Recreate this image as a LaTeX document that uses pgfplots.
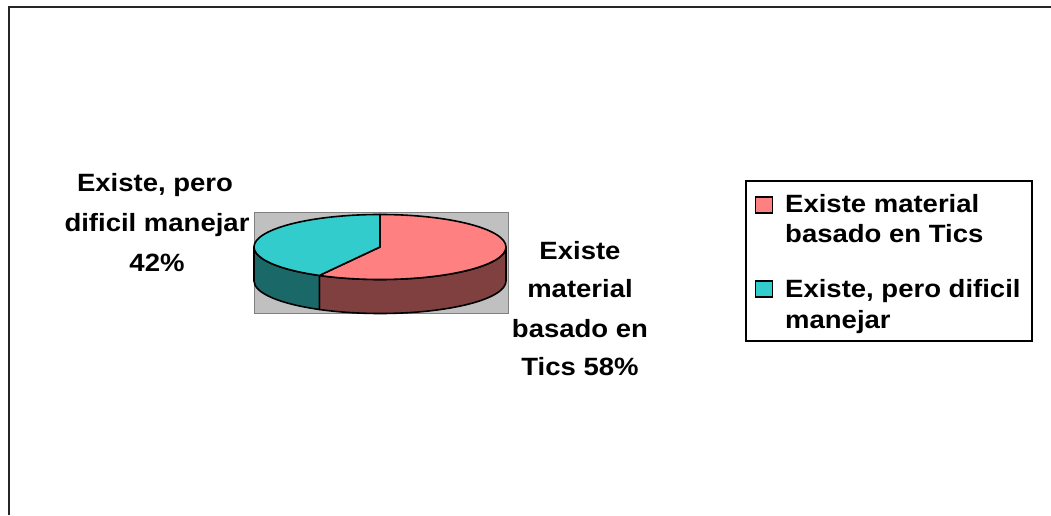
\documentclass[border=0pt]{standalone}
\usepackage{pgfplots}
\pgfplotsset{compat=1.18}
\usepackage{pgfplotstable}
\usepackage{fontspec}
\setmainfont{Liberation Sans}
\newfontfamily\chartfont{Liberation Sans}[FakeStretch=1.1]

\definecolor{slicepink}{HTML}{FF8080}
\definecolor{slicecyan}{HTML}{33CCCC}
\definecolor{sidepink}{HTML}{804040}
\definecolor{sidecyan}{HTML}{1B6868}
\definecolor{plotgray}{HTML}{C0C0C0}

% shares of the two answers (percent)
\pgfplotstableread{
answer share
material 58
dificil  42
}\pietable
\pgfplotstablegetelem{0}{share}\of\pietable
\let\shareA\pgfplotsretval
% the first slice starts at twelve o'clock and runs clockwise
\pgfmathsetmacro\splitangle{90-3.6*\shareA}
\pgfmathsetmacro\splitpos{360+\splitangle}

\newcommand\lbl{\chartfont\bfseries\fontsize{25bp}{30bp}\selectfont}

\begin{document}
\begin{tikzpicture}
\begin{axis}[
  width=1051bp, height=515bp, scale only axis,
  xmin=0, xmax=1051, ymin=0, ymax=515,
  hide axis, clip=false,
]
% chart frame
\draw[line width=2bp, black!85] (axis cs:8.5,0) -- (axis cs:8.5,508) -- (axis cs:1051,508);
% plot area
\filldraw[fill=plotgray, draw=black!50, line width=1bp] (axis cs:254,201) rectangle (axis cs:508,302);

\begin{scope}[shift={(axis cs:380,268)}, line width=1.6bp, line join=round,
              x radius=126bp, y radius=32.5bp]
  % front side walls
  \filldraw[fill=sidepink, draw=black]
    (\splitpos:126bp and 32.5bp) arc[start angle=\splitpos, end angle=360]
    -- ++(0,-34bp) arc[start angle=360, end angle=\splitpos] -- cycle;
  \filldraw[fill=sidecyan, draw=black]
    (180:126bp and 32.5bp) arc[start angle=180, end angle=\splitpos]
    -- ++(0,-34bp) arc[start angle=\splitpos, end angle=180] -- cycle;
  % top faces
  \filldraw[fill=slicepink, draw=black]
    (0,0) -- (90:126bp and 32.5bp) arc[start angle=90, end angle=\splitangle] -- cycle;
  \filldraw[fill=slicecyan, draw=black]
    (0,0) -- (\splitpos:126bp and 32.5bp) arc[start angle=\splitpos, end angle=90] -- cycle;
\end{scope}

% data labels
\node[anchor=base, inner sep=0pt, font=\lbl] at (axis cs:155,323) {Existe, pero};
\node[anchor=base, inner sep=0pt, font=\lbl] at (axis cs:157,283) {dificil manejar};
\node[anchor=base, inner sep=0pt, font=\lbl] at (axis cs:157,243) {42\%};

\node[anchor=base, inner sep=0pt, font=\lbl] at (axis cs:580,255) {Existe};
\node[anchor=base, inner sep=0pt, font=\lbl] at (axis cs:580,217) {material};
\node[anchor=base, inner sep=0pt, font=\lbl] at (axis cs:580,178) {basado en};
\node[anchor=base, inner sep=0pt, font=\lbl] at (axis cs:580,140) {Tics 58\%};

% legend
\draw[black, line width=1.3bp] (axis cs:746,174) rectangle (axis cs:1032,334);
\filldraw[fill=slicepink, draw=black, line width=1.3bp] (axis cs:755.5,302) rectangle (axis cs:772.5,318);
\filldraw[fill=slicecyan, draw=black, line width=1.3bp] (axis cs:755.5,218) rectangle (axis cs:772.5,234);
\node[anchor=base west, inner sep=0pt, font=\lbl] at (axis cs:785,302) {Existe material};
\node[anchor=base west, inner sep=0pt, font=\lbl] at (axis cs:785,272) {basado en Tics};
\node[anchor=base west, inner sep=0pt, font=\lbl] at (axis cs:785,217) {Existe, pero dificil};
\node[anchor=base west, inner sep=0pt, font=\lbl] at (axis cs:785,187) {manejar};
\end{axis}
\pgfresetboundingbox
\useasboundingbox (current axis.south west) rectangle (current axis.north east);
\end{tikzpicture}
\end{document}
